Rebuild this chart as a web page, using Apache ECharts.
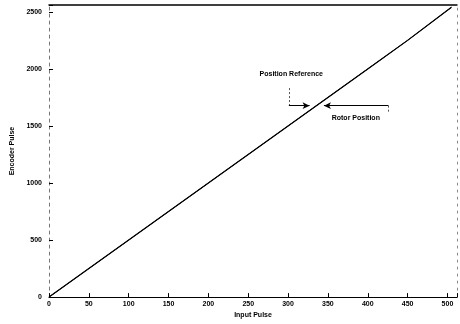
<!DOCTYPE html>
<html><head><meta charset="utf-8">
<script src="https://cdn.jsdelivr.net/npm/echarts@6/dist/echarts.min.js"></script>
<style>html,body{margin:0;padding:0;background:#fff}#c{width:460px;height:324px}</style>
</head><body><div id="c"></div>
<script>
const inputPulse = [0, 50, 100, 150, 200, 250, 300, 350, 400, 450, 505];
const positionReference = [0, 250, 500, 750, 1000, 1250, 1500, 1750, 2000, 2250, 2540];
const rotorPosition = [0, 250, 500, 750, 1000, 1250, 1500, 1750, 2000, 2250, 2540];
const xTicks = [0, 50, 100, 150, 200, 250, 300, 350, 400, 450, 500];
const yTicks = [0, 500, 1000, 1500, 2000, 2500];
const refBracket = [[301, 1832], [301, 1678]];
const refArrow = [[301, 1678], [327, 1678]];
const rotorArrow = [[426, 1678], [345, 1678]];
const rotorTick = [[426, 1678], [426, 1620]];
const refLabelAt = [304, 1955];
const rotorLabelAt = [385, 1565];

const font = 'Liberation Sans, Arial, sans-serif';
const chart = echarts.init(document.getElementById('c'));
const pairs = (xs, ys) => xs.map((x, i) => [x, ys[i]]);
chart.setOption({
  animation: false,
  backgroundColor: '#fff',
  grid: {left: 49, right: 2, top: 5, bottom: 20},
  xAxis: [{
    type: 'value', min: 0, max: 512, interval: 50,
    name: 'Input Pulse', nameLocation: 'middle', nameGap: 12,
    nameTextStyle: {fontFamily: font, fontSize: 7, fontWeight: 'bold', color: '#000'},
    axisLine: {onZero: false, lineStyle: {color: '#000', width: 1.2}},
    axisTick: {inside: true, length: 4, lineStyle: {color: '#000'}},
    axisLabel: {fontFamily: font, fontSize: 7, fontWeight: 'bold', color: '#000', margin: 3,
      formatter: v => xTicks.includes(v) ? String(v) : ''},
    splitLine: {show: false}
  }, {
    type: 'value', position: 'top', min: 0, max: 512,
    axisLine: {show: true, onZero: false, lineStyle: {color: '#000', width: 1.5}},
    axisTick: {show: false}, axisLabel: {show: false}, splitLine: {show: false}
  }],
  yAxis: [{
    type: 'value', min: 0, max: 2560, interval: 500,
    name: 'Encoder Pulse', nameLocation: 'middle', nameGap: 33, nameRotate: 90,
    nameTextStyle: {fontFamily: font, fontSize: 7, fontWeight: 'bold', color: '#000'},
    axisLine: {show: true, onZero: false, lineStyle: {color: '#777', type: [3, 4], width: 1}},
    axisTick: {show: true, inside: true, length: 4, lineStyle: {color: '#000'}},
    axisLabel: {fontFamily: font, fontSize: 7, fontWeight: 'bold', color: '#000', margin: 7,
      formatter: v => yTicks.includes(v) ? String(v) : ''},
    splitLine: {show: false}
  }, {
    type: 'value', position: 'right', min: 0, max: 2560,
    axisLine: {show: true, onZero: false, lineStyle: {color: '#888', type: [2, 5], width: 1}},
    axisTick: {show: false}, axisLabel: {show: false}, splitLine: {show: false}
  }],
  series: [{
    name: 'Position Reference', type: 'line', showSymbol: false,
    data: pairs(inputPulse, positionReference),
    lineStyle: {color: '#000', width: 1.2},
    markLine: {
      silent: true, symbolSize: [0, 0],
      label: {show: false},
      data: [
        [{coord: refBracket[0], symbol: 'none', lineStyle: {type: [2, 2], color: '#555', width: 1}},
         {coord: refBracket[1], symbol: 'none'}],
        [{coord: refArrow[0], symbol: 'none', lineStyle: {type: 'solid', color: '#000', width: 1}},
         {coord: refArrow[1], symbol: 'arrow', symbolSize: [5, 7]}],
        [{coord: rotorArrow[0], symbol: 'none', lineStyle: {type: 'solid', color: '#000', width: 1}},
         {coord: rotorArrow[1], symbol: 'arrow', symbolSize: [5, 7]}],
        [{coord: rotorTick[0], symbol: 'none', lineStyle: {type: [2, 2], color: '#555', width: 1}},
         {coord: rotorTick[1], symbol: 'none'}]
      ]
    },
    markPoint: {
      silent: true, symbol: 'circle', symbolSize: 0,
      label: {show: true, fontFamily: font, fontSize: 7, fontWeight: 'bold', color: '#000', position: 'inside'},
      data: [
        {coord: refLabelAt, value: 'Position Reference', label: {formatter: 'Position Reference'}},
        {coord: rotorLabelAt, value: 'Rotor Position', label: {formatter: 'Rotor Position'}}
      ]
    }
  }, {
    name: 'Rotor Position', type: 'line', showSymbol: false,
    data: pairs(inputPulse, rotorPosition),
    lineStyle: {color: '#000', width: 1}
  }]
});
</script></body></html>
